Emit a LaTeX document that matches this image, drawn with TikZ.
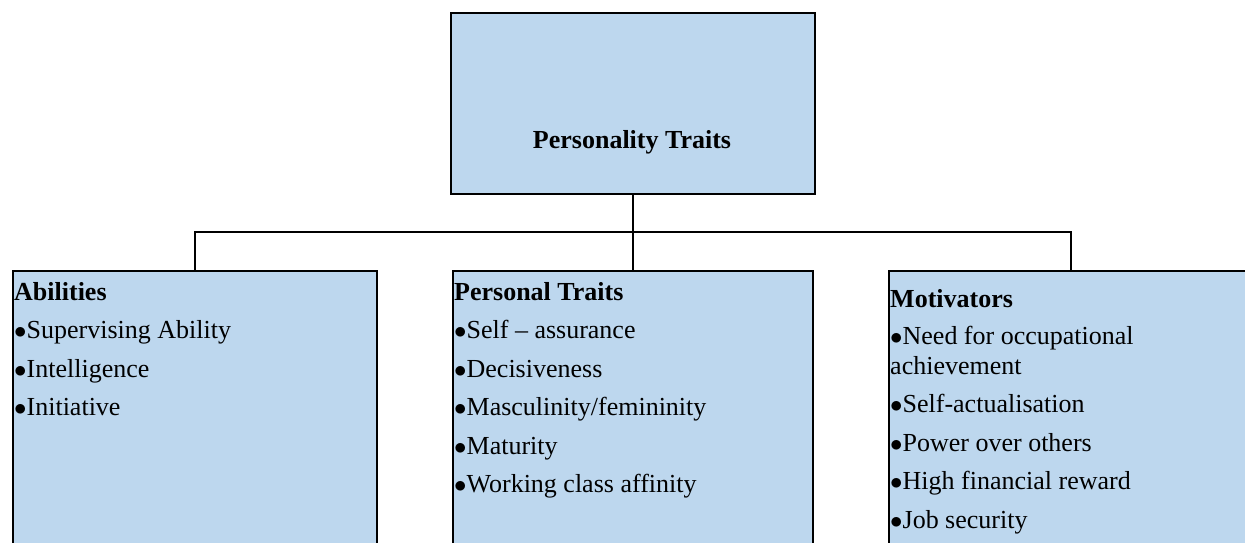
\documentclass[tikz,border=0pt]{standalone}
\usepackage{fontspec}
\setmainfont{Liberation Serif}
\usetikzlibrary{positioning}
\definecolor{boxblue}{HTML}{BDD7EE}
\newcommand{\pnt}{$\bullet$}
\tikzset{
  box/.style={draw=black, line width=2pt, fill=boxblue, inner sep=0pt, anchor=north west},
  items/.style={anchor=north west, align=left, inner sep=0pt, font=\fontsize{26}{29.5}\selectfont},
  link/.style={draw=black, line width=1.8pt},
}
\begin{document}
\begin{tikzpicture}[x=1pt, y=-1pt]
                \useasboundingbox (0,0) rectangle (1245,543);

                \node[box, minimum width=364pt, minimum height=181pt] (top) at (450,12) {};
                \node[box, minimum width=364pt, minimum height=300pt] (abil) at (12,270) {};
                \node[box, minimum width=360pt, minimum height=300pt] (pers) at (452,270) {};
                \node[box, minimum width=364pt, minimum height=300pt] (moti) at (888,270) {};

                \coordinate (bar) at (632,232);
                \draw[link] (top.south) -- (pers.north);
                \draw[link] (abil.north) |- (bar) -| (moti.north);

                \node[anchor=base, font=\bfseries\fontsize{26}{30}\selectfont] (title) at (632,148) {Personality Traits};
                \node[items] (abiltext) at (14,282) {\textbf{Abilities}\\[9pt]
                    \pnt Supervising Ability\\[9pt]
                    \pnt Intelligence\\[9pt]
                    \pnt Initiative};
                \node[items] (perstext) at (454,282) {\textbf{Personal Traits}\\[9pt]
                    \pnt Self -- assurance\\[9pt]
                    \pnt Decisiveness\\[9pt]
                    \pnt Masculinity/femininity\\[9pt]
                    \pnt Maturity\\[9pt]
                    \pnt Working class affinity};
                \node[items] (motitext) at (890,289) {\textbf{Motivators}\\[8pt]
                    \pnt Need for occupational\\
                    achievement\\[9pt]
                    \pnt Self-actualisation\\[9pt]
                    \pnt Power over others\\[9pt]
                    \pnt High financial reward\\[9pt]
                    \pnt Job security};
            \end{tikzpicture}
\end{document}
